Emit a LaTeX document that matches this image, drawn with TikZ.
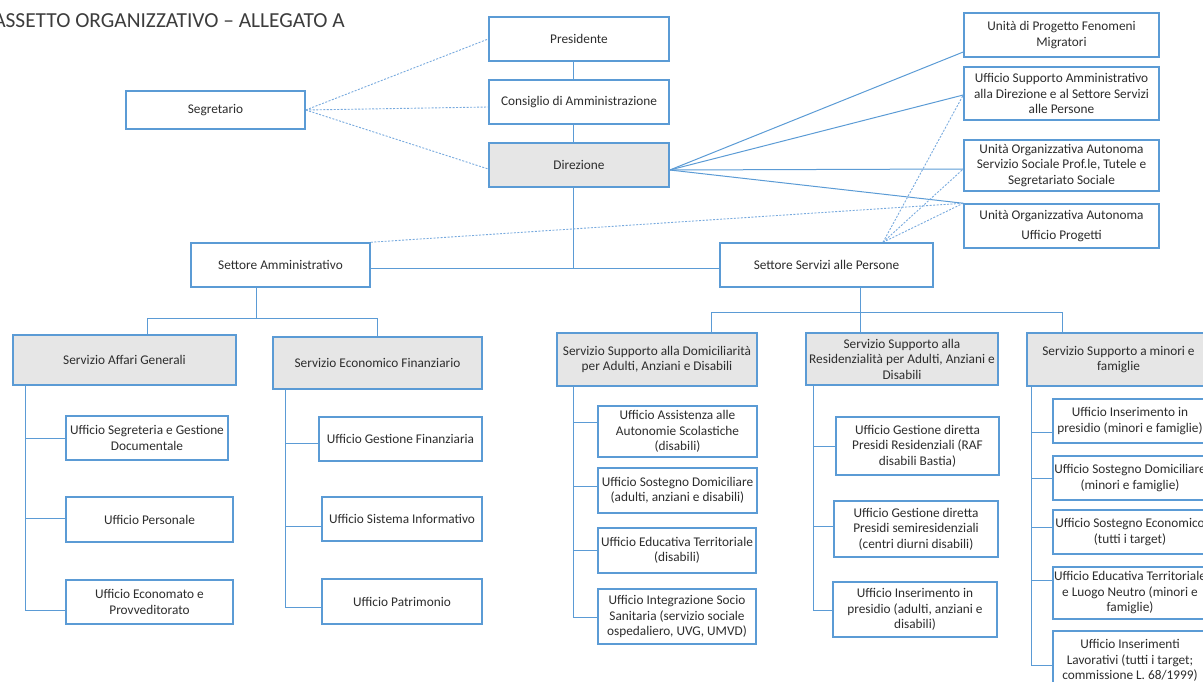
\documentclass[tikz,border=0pt]{standalone}
\usepackage{fontspec}
\setmainfont{Carlito}
\usetikzlibrary{backgrounds}
\definecolor{bblue}{RGB}{91,155,213}
\definecolor{lblue}{RGB}{120,170,222}
\definecolor{gfill}{RGB}{230,230,230}
\definecolor{txt}{RGB}{45,45,45}
\definecolor{ttxt}{RGB}{60,60,60}
\begin{document}
\begin{tikzpicture}[x=1pt,y=-1pt,
 box/.style={draw=bblue, line width=1.5pt, fill=white, text=txt, align=center, inner sep=0pt, font=\fontsize{13.3}{15.5}\selectfont},
 gbox/.style={box, fill=gfill},
 sz/.style 2 args={minimum width=#1pt, minimum height=#2pt},
 conn/.style={draw=bblue, line width=1pt},
 dconn/.style={draw=lblue, line width=0.9pt, dash pattern=on 2pt off 1.5pt}]
\useasboundingbox (0,0) rectangle (1203,682);
\clip (0,0) rectangle (1203,682);

\node[anchor=base east, text=ttxt, font=\fontsize{21.4}{25}\selectfont, inner sep=0pt] (title) at (345,28) {ASSETTO ORGANIZZATIVO – ALLEGATO A};

% top
\node[box, sz={180}{44}] (pres) at (579,39) {Presidente};
\node[box, sz={180}{44}] (cda) at (579,102) {Consiglio di Amministrazione};
\node[gbox, sz={180}{44}] (dir) at (579,165) {Direzione};
\node[box, sz={179}{38}] (seg) at (215.5,110) {Segretario};

% right column
\node[box, sz={195}{44}] (upf) at (1061.5,35) {Unità di Progetto Fenomeni\\Migratori};
\node[box, sz={195}{53}] (usa) at (1061.5,93.5) {Ufficio Supporto Amministrativo\\alla Direzione e al Settore Servizi\\alle Persone};
\node[box, sz={195}{51}] (uoa1) at (1061.5,165.5) {Unità Organizzativa Autonoma\\Servizio Sociale Prof.le, Tutele e\\Segretariato Sociale};
\node[box, sz={195}{44}] (uoa2) at (1061.5,226) {Unità Organizzativa Autonoma\\[4pt]Ufficio Progetti};

% settori
\node[box, sz={179}{44}] (sam) at (280.5,265) {Settore Amministrativo};
\node[box, sz={213}{44}] (ssp) at (826.5,265) {Settore Servizi alle Persone};

% servizi
\node[gbox, sz={223}{50}] (sag) at (124.5,360) {Servizio Affari Generali};
\node[gbox, sz={209}{52}] (sef) at (377.5,363) {Servizio Economico Finanziario};
\node[gbox, sz={200}{53}] (sdom) at (657,359.5) {Servizio Supporto alla Domiciliarità\\per Adulti, Anziani e Disabili};
\node[gbox, sz={192}{52}] (sres) at (902,359) {Servizio Supporto alla\\Residenzialità per Adulti, Anziani e\\Disabili};
\node[gbox, sz={183}{53}] (smin) at (1118.5,359.5) {Servizio Supporto a minori e\\famiglie};

% uffici
\node[box, sz={162}{44}] (u1) at (147,438) {Ufficio Segreteria e Gestione\\Documentale};
\node[box, sz={167}{45}] (u2) at (149.5,519.5) {Ufficio Personale};
\node[box, sz={167}{44}] (u3) at (149.5,602) {Ufficio Economato e\\Provveditorato};
\node[box, sz={163}{44}] (u4) at (400.5,439) {Ufficio Gestione Finanziaria};
\node[box, sz={160}{44}] (u5) at (402,519) {Ufficio Sistema Informativo};
\node[box, sz={160}{45}] (u6) at (402,601.5) {Ufficio Patrimonio};

\node[box, sz={159}{51}] (d1) at (677.5,431.5) {Ufficio Assistenza alle\\Autonomie Scolastiche\\(disabili)};
\node[box, sz={159}{45}] (d2) at (677.5,490.5) {Ufficio Sostegno Domiciliare\\(adulti, anziani e disabili)};
\node[box, sz={158}{45}] (d3) at (677,550.5) {Ufficio Educativa Territoriale\\(disabili)};
\node[box, sz={158}{55}] (d4) at (677,616.5) {Ufficio Integrazione Socio\\Sanitaria (servizio sociale\\ospedaliero, UVG, UMVD)};

\node[box, sz={163}{58}] (r1) at (917.5,446) {Ufficio Gestione diretta\\Presidi Residenziali (RAF\\disabili Bastia)};
\node[box, sz={164}{56}] (r2) at (916,529) {Ufficio Gestione diretta\\Presidi semiresidenziali\\(centri diurni disabili)};
\node[box, sz={164}{55}] (r3) at (915,609.5) {Ufficio Inserimento in\\presidio (adulti, anziani e\\disabili)};

\node[box, sz={154}{44}] (m1) at (1130,421) {Ufficio Inserimento in\\presidio (minori e famiglie)};
\node[box, sz={154}{44}] (m2) at (1130,478) {Ufficio Sostegno Domiciliare\\(minori e famiglie)};
\node[box, sz={154}{44}] (m3) at (1130,532) {Ufficio Sostegno Economico\\(tutti i target)};
\node[box, sz={154}{52}] (m4) at (1130,593) {Ufficio Educativa Territoriale\\e Luogo Neutro (minori e\\famiglie)};
\node[box, sz={154}{59}] (m5) at (1130,660.5) {Ufficio Inserimenti\\Lavorativi (tutti i target;\\commissione L. 68/1999)};

\begin{pgfonlayer}{background}
% dashed from Segretario
\draw[dconn] (seg.east) -- (pres.west);
\draw[dconn] (seg.east) -- (cda.west |- 0,107);
\draw[dconn] (seg.east) -- (dir.west |- 0,169);
% vertical chain
\draw[conn] (pres.south -| 573,0) -- (cda.north -| 573,0);
\draw[conn] (cda.south -| 573,0) -- (dir.north -| 573,0);
\draw[conn] (dir.south -| 573,0) -- (573,268);
\draw[conn] (sam.east |- 0,268) -- (ssp.west |- 0,268);
% Direzione to right units
\draw[conn] (dir.east |- 0,170) -- (upf.west |- 0,52);
\draw[conn] (dir.east |- 0,170) -- (usa.west |- 0,95);
\draw[conn] (dir.east |- 0,170) -- (uoa1.west |- 0,169);
\draw[conn] (dir.east |- 0,170) -- (uoa2.north west);
% dashed from settori
\draw[dconn] (sam.north east) -- (uoa2.north west);
\draw[dconn] (ssp.north -| 883,0) -- (usa.west |- 0,95);
\draw[dconn] (ssp.north -| 883,0) -- (uoa1.west |- 0,169);
\draw[dconn] (ssp.north -| 883,0) -- (uoa2.north west);
% Settore Amministrativo tree
\draw[conn] (sam.south -| 256,0) -- (256,318);
\draw[conn] (sag.north -| 147,0) |- (377,318) -- (sef.north -| 377,0);
% Settore Servizi tree
\draw[conn] (ssp.south -| 860,0) -- (sres.north -| 860,0);
\draw[conn] (sdom.north -| 711,0) |- (1062,312) -- (smin.north -| 1062,0);
% Affari generali column
\draw[conn] (sag.south -| 25,0) -- (25,610);
\draw[conn] (25,438) -- (u1.west |- 0,438);
\draw[conn] (25,518) -- (u2.west |- 0,518);
\draw[conn] (25,610) -- (u3.west |- 0,610);
% Economico column
\draw[conn] (sef.south -| 285,0) -- (285,607);
\draw[conn] (285,443) -- (u4.west |- 0,443);
\draw[conn] (285,526) -- (u5.west |- 0,526);
\draw[conn] (285,607) -- (u6.west |- 0,607);
% Domiciliarita column
\draw[conn] (sdom.south -| 573,0) -- (573,617);
\draw[conn] (573,422) -- (d1.west |- 0,422);
\draw[conn] (573,486) -- (d2.west |- 0,486);
\draw[conn] (573,550) -- (d3.west |- 0,550);
\draw[conn] (573,617) -- (d4.west |- 0,617);
% Residenzialita column
\draw[conn] (sres.south -| 813,0) -- (813,610);
\draw[conn] (813,446) -- (r1.west |- 0,446);
\draw[conn] (813,526) -- (r2.west |- 0,526);
\draw[conn] (813,610) -- (r3.west |- 0,610);
% Minori column
\draw[conn] (smin.south -| 1031,0) -- (1031,665);
\draw[conn] (1031,432) -- (m1.west |- 0,432);
\draw[conn] (1031,478) -- (m2.west |- 0,478);
\draw[conn] (1031,527) -- (m3.west |- 0,527);
\draw[conn] (1031,580) -- (m4.west |- 0,580);
\draw[conn] (1031,665) -- (m5.west |- 0,665);
\end{pgfonlayer}
\end{tikzpicture}
\end{document}
